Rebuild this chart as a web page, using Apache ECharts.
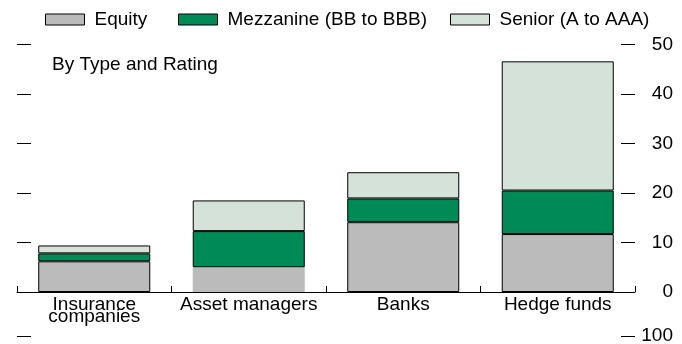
<!DOCTYPE html>
<html>
<head>
<meta charset="utf-8">
<script src="https://cdn.jsdelivr.net/npm/echarts@6/dist/echarts.min.js"></script>
<style>
  html, body { margin: 0; padding: 0; background: #fff; }
  #chart { width: 682px; height: 344px; }
</style>
</head>
<body>
<div id="chart"></div>
<script>
// Holdings by investor type, split by tranche rating
const categories = ['Insurance\ncompanies', 'Asset managers', 'Banks', 'Hedge funds'];
const equity = [6.2, 5.0, 14.1, 11.7];
const mezzanine = [1.6, 7.3, 4.8, 8.8];
const senior = [1.6, 6.2, 5.3, 26.1];
const seriesNames = ['Equity', 'Mezzanine (BB to BBB)', 'Senior (A to AAA)'];
const panelTitle = 'By Type and Rating';
// top tick label of the panel that follows below
const nextPanelTop = 100;

const FONT = 'Liberation Sans, Arial, Helvetica, sans-serif';
const colors = ['#bbbbbb', '#008a58', '#d5e2da'];
// legend swatch left edges, one per series
const legendLeft = [45, 178, 450];
// segments drawn without an outline: series index -> category indices
const unframed = { 0: [1] };

const chart = echarts.init(document.getElementById('chart'), null, { renderer: 'canvas' });

const tickStyle = { show: true, inside: true, length: 14, lineStyle: { color: '#000', width: 1 } };

function stackSeries(idx, data) {
  const plain = unframed[idx] || [];
  return {
    name: seriesNames[idx],
    type: 'bar',
    stack: 'total',
    xAxisIndex: 0,
    yAxisIndex: 0,
    barWidth: '72.5%',
    data: data.map((v, i) => plain.indexOf(i) >= 0
      ? { value: v, itemStyle: { borderWidth: 0 } }
      : v),
    itemStyle: { color: colors[idx], borderColor: '#000', borderWidth: 1 },
    emphasis: { disabled: true }
  };
}

chart.setOption({
  animation: false,
  textStyle: { fontFamily: FONT, color: '#000' },
  title: {
    text: panelTitle,
    left: 52,
    top: 55,
    padding: 0,
    textStyle: { fontFamily: FONT, fontSize: 19, fontWeight: 'normal', color: '#000' }
  },
  legend: seriesNames.map((name, i) => ({
    data: [name],
    left: legendLeft[i],
    top: 10,
    padding: 0,
    itemWidth: 39,
    itemHeight: 11,
    icon: 'rect',
    selectedMode: false,
    textStyle: { fontFamily: FONT, fontSize: 19, color: '#000', padding: [0, 0, 0, 5] },
    itemStyle: { borderColor: '#000', borderWidth: 1 }
  })),
  grid: [
    { left: 17, right: 47, top: 44.5, height: 247.5 },
    { left: 17, right: 47, top: 336, height: 100 }
  ],
  xAxis: [
    {
      type: 'category',
      gridIndex: 0,
      data: categories,
      axisLine: { lineStyle: { color: '#000', width: 1 } },
      axisTick: { show: true, inside: true, length: 6, lineStyle: { color: '#000' } },
      axisLabel: { color: '#000', fontFamily: FONT, fontSize: 19, lineHeight: 12, margin: 6.5, interval: 0 }
    },
    {
      type: 'category',
      gridIndex: 1,
      data: categories,
      show: false
    }
  ],
  yAxis: [
    {
      type: 'value', gridIndex: 0, position: 'left',
      min: 0, max: 50, interval: 10,
      axisLine: { show: false }, axisTick: tickStyle,
      axisLabel: { show: false }, splitLine: { show: false }
    },
    {
      type: 'value', gridIndex: 0, position: 'right',
      min: 0, max: 50, interval: 10,
      axisLine: { show: false }, axisTick: tickStyle,
      axisLabel: { color: '#000', fontFamily: FONT, fontSize: 19, align: 'right', margin: 38 },
      splitLine: { show: false }
    },
    {
      type: 'value', gridIndex: 1, position: 'left',
      min: 0, max: nextPanelTop, interval: nextPanelTop,
      axisLine: { show: false }, axisTick: tickStyle,
      axisLabel: { show: false }, splitLine: { show: false }
    },
    {
      type: 'value', gridIndex: 1, position: 'right',
      min: 0, max: nextPanelTop, interval: nextPanelTop,
      axisLine: { show: false }, axisTick: tickStyle,
      axisLabel: { color: '#000', fontFamily: FONT, fontSize: 19, align: 'right', margin: 38 },
      splitLine: { show: false }
    }
  ],
  series: [
    stackSeries(0, equity),
    stackSeries(1, mezzanine),
    stackSeries(2, senior)
  ]
});
</script>
</body>
</html>
